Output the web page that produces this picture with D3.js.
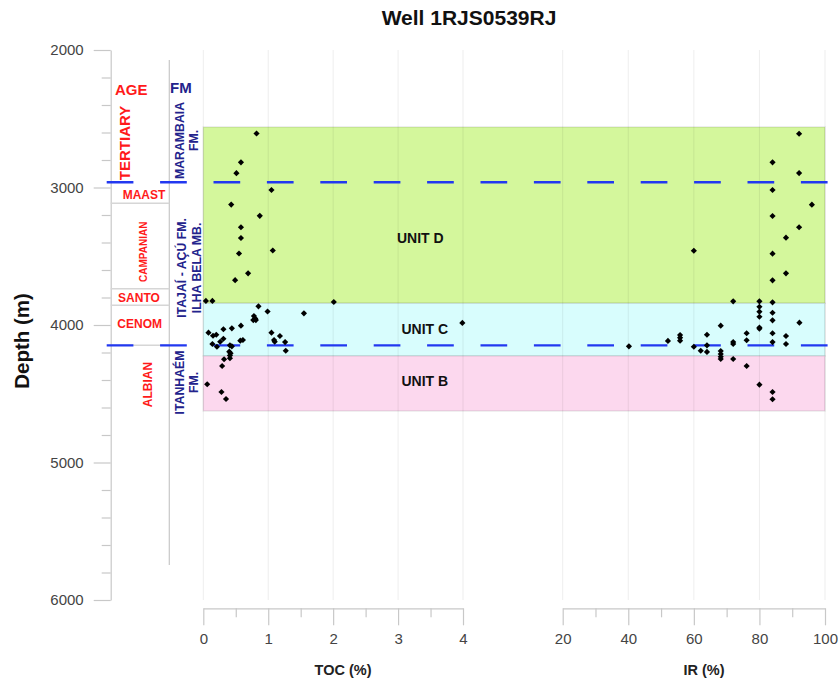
<!DOCTYPE html>
<html><head><meta charset="utf-8">
<script src="https://cdn.jsdelivr.net/npm/d3@7"></script>
<style>
body{margin:0;background:#fff;}
svg{font-family:"Liberation Sans",Arial,Helvetica,sans-serif;}
</style></head>
<body><svg id="c" width="840" height="680"></svg>
<script>
// ---------- data ----------
const title = "Well 1RJS0539RJ";
const depthTicks = [2000, 3000, 4000, 5000, 6000];
const depthMinorTicks = [2200,2400,2600,2800,3200,3400,3600,3800,4200,4400,4600,4800,5200,5400,5600,5800];
const tocTicks = [0, 1, 2, 3, 4];
const tocMinorTicks = [0.5, 1.5, 2.5, 3.5];
const irTicks = [20, 40, 60, 80, 100];
const irMinorTicks = [30, 50, 70, 90];

const unitNames = ["UNIT D", "UNIT C", "UNIT B"];
const unitTop = [2560, 3842, 4225];
const unitBottom = [3842, 4225, 4625];
const unitColors = ["#d4f79c", "#d8fdfd", "#fcd8ee"];

const boundaryDepths = [2962, 4148];          // blue dashed formation boundaries
const ageBoundaryDepths = [3115, 3736, 3857, 4148];

const ageNames = ["TERTIARY", "MAAST", "CAMPANIAN", "SANTO", "CENOM", "ALBIAN"];
const ageDepth = [2676, 3055, 3467, 3804, 3993, 4433];
const ageRotated = [true, false, true, false, false, true];

const fmLine1 = ["MARAMBAIA", "ITAJAÍ - AÇÚ FM.", "ITANHAÉM"];
const fmLine2 = ["FM.", "ILHA BELA MB.", "FM."];
const fmDepth = [2658, 3585, 4418];

const tocValue = [0.82,0.58,0.51,1.05,0.43,0.87,0.58,0.58,1.07,0.55,0.69,0.49,0.04,0.14,0.85,0.99,0.78,0.80,0.77,0.81,1.55,2.01,3.99,0.08,0.15,0.20,0.31,0.44,0.58,0.14,0.21,0.26,0.31,0.57,0.61,0.41,0.44,1.05,1.09,1.10,1.18,1.26,1.27,0.40,0.42,0.41,0.41,0.32,0.29,0.06,0.28,0.35];
const tocDepth = [2607,2817,2896,3018,3124,3206,3289,3367,3458,3480,3624,3674,3825,3825,3864,3902,3935,3953,3964,3964,3915,3833,3985,4056,4078,4071,4031,4024,4005,4138,4158,4122,4100,4114,4109,4148,4155,4056,4109,4121,4080,4124,4187,4194,4206,4222,4242,4249,4298,4431,4487,4538];

const irValue = [92.1,84.0,92.1,84.0,96.0,84.0,92.1,88.1,60.0,84.0,88.1,84.0,72.0,80.0,84.0,80.0,80.0,80.0,84.0,84.0,80.0,80.0,92.2,68.2,64.0,76.1,76.1,84.0,84.0,88.1,88.1,72.0,72.0,60.0,62.1,64.0,64.0,68.2,68.2,68.2,68.2,72.0,76.1,80.0,84.0,84.0,40.2,52.1,55.8,55.8,55.8];
const irDepth = [2609,2817,2895,3018,3125,3207,3289,3365,3460,3481,3624,3675,3828,3828,3835,3867,3903,3940,3911,3966,4027,4018,3983,4005,4071,4060,4111,4060,4124,4080,4138,4124,4138,4158,4187,4148,4196,4189,4211,4231,4247,4247,4298,4434,4487,4540,4155,4116,4073,4092,4114];

// ---------- layout ----------
const svg = d3.select("#c");
const y = d3.scaleLinear().domain([2000, 6000]).range([50, 600]);
const xToc = d3.scaleLinear().domain([0, 4]).range([203.3, 463]);
const xIr = d3.scaleLinear().domain([20, 100]).range([562.7, 825]);
const axisX = 110.7, fmColX = 169.3, axisBottomY = 608.3;
const red = "#ff1a1a", navy = "#23238c", blue = "#2238f0", tickGray = "#c8c8c8", labelGray = "#444";

// title
svg.append("text").attr("x", 469).attr("y", 18).attr("dy", "0.35em")
  .attr("text-anchor", "middle").attr("font-size", 21).attr("font-weight", "bold").attr("fill", "#111").text(title);

// unit zones
const zones = svg.append("g");
unitNames.forEach((n, i) => {
  zones.append("rect").attr("x", xToc(0)).attr("y", y(unitTop[i]))
    .attr("width", xIr(100) - xToc(0)).attr("height", y(unitBottom[i]) - y(unitTop[i]))
    .attr("fill", unitColors[i]).attr("stroke", "rgba(0,0,0,0.09)").attr("stroke-width", 1.5);
});

// vertical grid
const grid = svg.append("g").attr("stroke", "rgba(0,0,0,0.07)").attr("stroke-width", 1);
tocTicks.forEach(t => grid.append("line").attr("x1", xToc(t)).attr("x2", xToc(t)).attr("y1", y(2000)).attr("y2", 600));
irTicks.forEach(t => grid.append("line").attr("x1", xIr(t)).attr("x2", xIr(t)).attr("y1", y(2000)).attr("y2", 600));

// unit labels
const unitLabelX = [420.3, 424.8, 424.8];
const unitLabelY = [238.3, 329.3, 381];
unitNames.forEach((n, i) => {
  svg.append("text").attr("x", unitLabelX[i]).attr("y", unitLabelY[i]).attr("dy", "0.35em")
    .attr("text-anchor", "middle").attr("font-size", 14).attr("font-weight", "bold").attr("fill", "#111").text(n);
});

// depth axis
function styleAxis(g) {
  g.select(".domain").attr("stroke", tickGray).attr("stroke-width", 1.2);
  g.selectAll(".tick line").attr("stroke", tickGray).attr("stroke-width", 1.2);
  g.selectAll(".tick text").attr("fill", labelGray).attr("font-size", 15)
    .attr("font-family", "'Liberation Sans',Arial,sans-serif");
}
const yAxisG = svg.append("g").attr("transform", `translate(${axisX},0)`)
  .call(d3.axisLeft(y).tickValues(depthTicks).tickSize(17).tickPadding(10).tickSizeOuter(0).tickFormat(d3.format("d")));
styleAxis(yAxisG);
const yMinor = svg.append("g").attr("transform", `translate(${axisX},0)`)
  .call(d3.axisLeft(y).tickValues(depthMinorTicks).tickSize(9).tickFormat(""));
styleAxis(yMinor); yMinor.select(".domain").remove();

svg.append("text").attr("transform", `translate(22,${y(4000) + 16}) rotate(-90)`).attr("dy", "0.35em")
  .attr("text-anchor", "middle").attr("font-size", 20.5).attr("font-weight", "bold").attr("fill", "#111").text("Depth (m)");

// bottom axes
[[xToc, tocTicks, tocMinorTicks], [xIr, irTicks, irMinorTicks]].forEach(([sc, maj, min]) => {
  const g = svg.append("g").attr("transform", `translate(0,${axisBottomY})`)
    .call(d3.axisBottom(sc).tickValues(maj).tickSize(17).tickPadding(8).tickSizeOuter(0).tickFormat(d3.format("d")));
  styleAxis(g);
  const gm = svg.append("g").attr("transform", `translate(0,${axisBottomY})`)
    .call(d3.axisBottom(sc).tickValues(min).tickSize(9).tickFormat(""));
  styleAxis(gm); gm.select(".domain").remove();
});
svg.append("text").attr("x", 343).attr("y", 670).attr("dy", "0.35em").attr("text-anchor", "middle")
  .attr("font-size", 14.5).attr("font-weight", "bold").attr("fill", "#222").text("TOC (%)");
svg.append("text").attr("x", 704).attr("y", 670).attr("dy", "0.35em").attr("text-anchor", "middle")
  .attr("font-size", 14.5).attr("font-weight", "bold").attr("fill", "#222").text("IR (%)");

// age / formation columns
svg.append("line").attr("x1", fmColX).attr("x2", fmColX).attr("y1", y(2073)).attr("y2", y(5745))
  .attr("stroke", tickGray).attr("stroke-width", 1.2);
ageBoundaryDepths.forEach(d => svg.append("line").attr("x1", axisX).attr("x2", fmColX)
  .attr("y1", y(d)).attr("y2", y(d)).attr("stroke", "#d6d6d6").attr("stroke-width", 1.5));

svg.append("text").attr("x", 115).attr("y", y(2291)).attr("dy", "0.35em").attr("font-size", 15)
  .attr("font-weight", "bold").attr("fill", red).text("AGE");
svg.append("text").attr("x", 170).attr("y", y(2276)).attr("dy", "0.35em").attr("font-size", 15)
  .attr("font-weight", "bold").attr("fill", navy).text("FM");

const ageX = [125, 144, 143.3, 139, 139.7, 148];
const ageSize = [15, 12, 10, 12, 12, 12];
ageNames.forEach((n, i) => {
  const t = svg.append("text").attr("dy", "0.35em").attr("text-anchor", "middle")
    .attr("font-size", ageSize[i]).attr("font-weight", "bold").attr("fill", red).text(n);
  if (ageRotated[i]) t.attr("transform", `translate(${ageX[i]},${y(ageDepth[i])}) rotate(-90)`);
  else t.attr("x", ageX[i]).attr("y", y(ageDepth[i]));
});
const fmX1 = [180, 182, 179.5], fmX2 = [194, 197, 194];
fmLine1.forEach((n, i) => {
  svg.append("text").attr("transform", `translate(${fmX1[i]},${y(fmDepth[i])}) rotate(-90)`).attr("dy", "0.35em")
    .attr("text-anchor", "middle").attr("font-size", 12.3).attr("font-weight", "bold").attr("fill", navy).text(n);
  svg.append("text").attr("transform", `translate(${fmX2[i]},${y(fmDepth[i])}) rotate(-90)`).attr("dy", "0.35em")
    .attr("text-anchor", "middle").attr("font-size", 12.3).attr("font-weight", "bold").attr("fill", navy).text(fmLine2[i]);
});

// dashed boundaries
boundaryDepths.forEach(d => svg.append("line").attr("x1", 106.7).attr("x2", 828.3)
  .attr("y1", y(d)).attr("y2", y(d)).attr("stroke", blue).attr("stroke-width", 2.4)
  .attr("stroke-dasharray", "26.7,26.7"));

// points
const sym = d3.symbol().type(d3.symbolSquare).size(19);
const pts = svg.append("g").attr("fill", "#000");
tocValue.forEach((v, i) => pts.append("path").attr("d", sym)
  .attr("transform", `translate(${xToc(v)},${y(tocDepth[i])}) rotate(45)`));
irValue.forEach((v, i) => pts.append("path").attr("d", sym)
  .attr("transform", `translate(${xIr(v)},${y(irDepth[i])}) rotate(45)`));
</script></body></html>
